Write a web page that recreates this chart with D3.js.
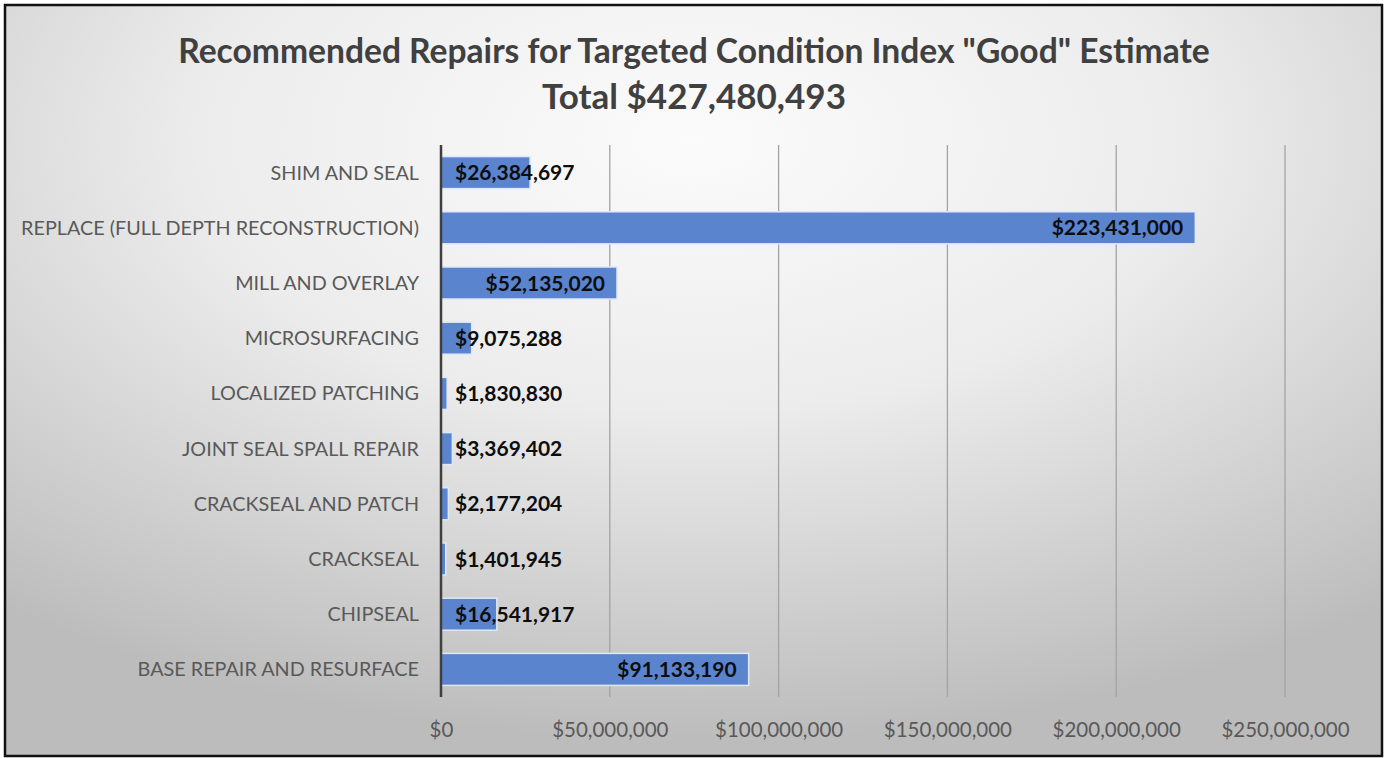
<!DOCTYPE html>
<html>
<head>
<meta charset="utf-8">
<script src="https://d3js.org/d3.v7.min.js"></script>
<style>
  html, body { margin: 0; padding: 0; background: #ffffff; }
  svg { display: block; }
</style>
</head>
<body>
<svg id="chart" width="1388" height="758"></svg>
<script>
const categories = [
  "SHIM AND SEAL",
  "REPLACE (FULL DEPTH RECONSTRUCTION)",
  "MILL AND OVERLAY",
  "MICROSURFACING",
  "LOCALIZED PATCHING",
  "JOINT SEAL SPALL REPAIR",
  "CRACKSEAL AND PATCH",
  "CRACKSEAL",
  "CHIPSEAL",
  "BASE REPAIR AND RESURFACE"
];
const values = [26384697, 223431000, 52135020, 9075288, 1830830, 3369402, 2177204, 1401945, 16541917, 91133190];
const tickValues = [0, 50000000, 100000000, 150000000, 200000000, 250000000];
const titleLines = ["Recommended Repairs for Targeted Condition Index \"Good\" Estimate", "Total $427,480,493"];

(function () {
const FONT = "Lato, 'Open Sans', sans-serif";
const svg = d3.select("#chart");

// background gradient
const defs = svg.append("defs");
const grad = defs.append("radialGradient").attr("id", "bg")
  .attr("cx", "50%").attr("cy", "18%").attr("r", "80%")
  .attr("fx", "50%").attr("fy", "18%");
grad.append("stop").attr("offset", "0%").attr("stop-color", "#fbfbfb");
grad.append("stop").attr("offset", "45%").attr("stop-color", "#ececec");
grad.append("stop").attr("offset", "100%").attr("stop-color", "#bcbcbc");

svg.append("rect").attr("x", 5).attr("y", 5).attr("width", 1377).attr("height", 751)
  .attr("fill", "url(#bg)").attr("stroke", "#111").attr("stroke-width", 2.5);

const x0 = 441, x1 = 1285;
const plotTop = 145, plotBottom = 697;
const x = d3.scaleLinear().domain([0, 250000000]).range([x0, x1]);
const y = d3.scaleBand().domain(categories).range([plotTop, plotBottom]).paddingInner(0.42).paddingOuter(0.21);

// gridlines
svg.append("g").selectAll("line").data(tickValues.filter(d => d > 0)).join("line")
  .attr("x1", d => x(d)).attr("x2", d => x(d))
  .attr("y1", plotTop).attr("y2", plotBottom)
  .attr("stroke", "#a3a3a3").attr("stroke-width", 1.3);

// x axis tick labels
const fmt = d => "$" + d3.format(",")(d);
const xAxis = d3.axisBottom(x).tickValues(tickValues).tickFormat(fmt).tickSize(0).tickPadding(0);
const gx = svg.append("g").attr("transform", `translate(0, ${plotBottom})`).call(xAxis);
gx.select(".domain").remove();
gx.selectAll("text").attr("y", 40).attr("dy", 0)
  .attr("font-family", FONT).attr("font-size", 20.5).attr("fill", "#595959");

// bars
svg.append("g").selectAll("rect").data(categories).join("rect")
  .attr("x", x0)
  .attr("y", d => y(d))
  .attr("width", (d, i) => x(values[i]) - x0)
  .attr("height", y.bandwidth())
  .attr("fill", "#5b84cf")
  .attr("stroke", "#dfe8f6").attr("stroke-width", 1.5);

// y axis (category labels)
const yAxis = d3.axisLeft(y).tickSize(0).tickPadding(22);
const gy = svg.append("g").attr("transform", `translate(${x0}, 0)`).call(yAxis);
gy.select(".domain").remove();
gy.selectAll("text").attr("font-family", FONT).attr("font-size", 19.8).attr("fill", "#595959").attr("dy", "0.35em");

// axis line
svg.append("line").attr("x1", x0).attr("x2", x0).attr("y1", plotTop).attr("y2", plotBottom)
  .attr("stroke", "#3f3f3f").attr("stroke-width", 2.5);

// value labels
const labels = svg.append("g").selectAll("text").data(categories).join("text")
  .attr("font-family", FONT).attr("font-weight", "bold").attr("font-size", 21)
  .attr("fill", "#0d0d0d")
  .attr("y", d => y(d) + y.bandwidth() / 2)
  .attr("dy", "0.36em")
  .text((d, i) => fmt(values[i]));
labels.each(function(d, i) {
  const w = this.getComputedTextLength();
  const xs = Math.max(x(values[i]) - 12 - w, x0 + 14);
  d3.select(this).attr("x", xs);
});

// title
svg.append("g").selectAll("text").data(titleLines).join("text")
  .attr("x", 694).attr("y", (d, i) => 63 + i * 46)
  .attr("text-anchor", "middle")
  .attr("font-family", FONT).attr("font-weight", "bold").attr("font-size", (d, i) => i === 0 ? 33.6 : 35)
  .attr("fill", "#404040")
  .text(d => d);
})();
</script>
</body>
</html>
